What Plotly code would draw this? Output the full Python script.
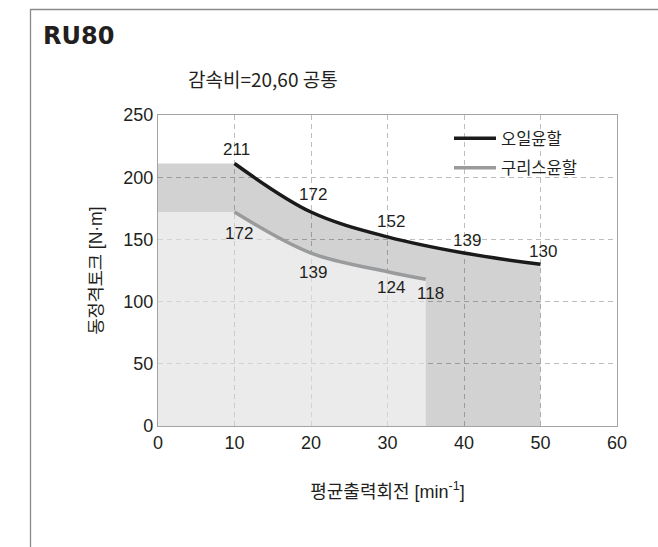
import plotly.graph_objects as go

# ---- data ----
oil_speed = [10, 20, 30, 40, 50]
oil_torque = [211, 172, 152, 139, 130]
grease_speed = [10, 20, 30, 35]
grease_torque = [172, 139, 124, 118]
x_ticks = [0, 10, 20, 30, 40, 50, 60]
y_ticks = [0, 50, 100, 150, 200, 250]

title_text = "RU80"
subtitle_text = "감속비=20,60 공통"
oil_name = "오일윤할"
grease_name = "구리스윤할"
x_title = "평균출력회전 [min<sup>-1</sup>]"
y_title = "동정격토크 [N·m]"

# label pixel offsets (style)
oil_label_dx = [2, 2, 3, 3, 2]
oil_label_dy = [14, 18, 15, 13, 13]
grease_label_dx = [4, 2, 3, 5]
grease_label_dy = [-21, -19, -16, -14]

LAT = "Liberation Sans, Noto Sans CJK KR, sans-serif"
KR = "Noto Sans CJK KR, sans-serif"
TXT = "#231f20"

W, H = 658, 547
L, R, T, B = 158, 41, 115, 121
pw, ph = W - L - R, H - T - B


def px_x(p):
    return (p - L) / pw


def px_y(p):
    return (H - B - p) / ph


fig = go.Figure()

dark_fill = "rgba(0,0,0,0.175)"
light_fill = "rgba(255,255,255,0.56)"

# dark region: under oil curve (flat part up to first point, then curve)
fig.add_trace(go.Scatter(x=[0, oil_speed[0]], y=[oil_torque[0]] * 2, mode="none",
                         fill="tozeroy", fillcolor=dark_fill, showlegend=False, hoverinfo="skip"))
fig.add_trace(go.Scatter(x=oil_speed, y=oil_torque, mode="none", line_shape="spline",
                         fill="tozeroy", fillcolor=dark_fill, showlegend=False, hoverinfo="skip"))
# light region: under grease curve
fig.add_trace(go.Scatter(x=[0, grease_speed[0]], y=[grease_torque[0]] * 2, mode="none",
                         fill="tozeroy", fillcolor=light_fill, showlegend=False, hoverinfo="skip"))
fig.add_trace(go.Scatter(x=grease_speed, y=grease_torque, mode="none", line_shape="spline",
                         fill="tozeroy", fillcolor=light_fill, showlegend=False, hoverinfo="skip"))

# lines
fig.add_trace(go.Scatter(x=grease_speed, y=grease_torque, mode="lines", name=grease_name,
                         line=dict(color="#9a9b9d", width=3.5, shape="spline"),
                         legendgroup="g", legendrank=2))
fig.add_trace(go.Scatter(x=oil_speed, y=oil_torque, mode="lines", name=oil_name,
                         line=dict(color="#1a1a1a", width=3.5, shape="spline"),
                         legendgroup="o", legendrank=1))

annotations = []
for x, y, dx, dy in zip(oil_speed, oil_torque, oil_label_dx, oil_label_dy):
    annotations.append(dict(x=x, y=y, xref="x", yref="y", text=str(y), showarrow=False,
                            xshift=dx, yshift=dy, font=dict(family=LAT, size=17, color=TXT)))
for x, y, dx, dy in zip(grease_speed, grease_torque, grease_label_dx, grease_label_dy):
    annotations.append(dict(x=x, y=y, xref="x", yref="y", text=str(y), showarrow=False,
                            xshift=dx, yshift=dy, font=dict(family=LAT, size=17, color=TXT)))

annotations.append(dict(x=px_x(186), y=px_y(78), xref="paper", yref="paper",
                        xanchor="left", yanchor="middle", text=subtitle_text, showarrow=False,
                        font=dict(family=KR, size=19, color=TXT)))

fig.update_layout(
    width=W, height=H,
    margin=dict(l=L, r=R, t=T, b=B),
    paper_bgcolor="white", plot_bgcolor="white",
    title=dict(text="<b>" + title_text + "</b>", x=43 / W, xanchor="left", xref="container",
               y=1 - 36 / H, yanchor="middle", yref="container",
               font=dict(family="DejaVu Sans, sans-serif", size=24, color=TXT)),
    showlegend=True,
    legend=dict(x=px_x(449), y=px_y(121), xanchor="left", yanchor="top",
                bgcolor="rgba(0,0,0,0)", tracegroupgap=5, itemwidth=42,
                font=dict(family=KR, size=16.5, color=TXT)),
    annotations=annotations,
    shapes=[dict(type="rect", xref="paper", yref="paper",
                 x0=px_x(30.5), x1=px_x(700), y0=px_y(600), y1=px_y(9.5),
                 line=dict(color="#8a8a8a", width=1.3), fillcolor="rgba(0,0,0,0)", layer="below")],
)

fig.update_xaxes(range=[0, 60], tickvals=x_ticks, showgrid=True, gridcolor="#bdbdbd",
                 griddash="5px,4px", gridwidth=1, zeroline=False,
                 showline=True, linecolor="#a3a3a3", linewidth=1.3, mirror=True,
                 tickfont=dict(family=LAT, size=18, color=TXT),
                 title=dict(text=x_title, font=dict(family=LAT, size=18, color=TXT), standoff=33))
fig.update_yaxes(range=[0, 250], tickvals=y_ticks, showgrid=True, gridcolor="#bdbdbd",
                 griddash="5px,4px", gridwidth=1, zeroline=False,
                 showline=True, linecolor="#a3a3a3", linewidth=1.3, mirror=True,
                 tickfont=dict(family=LAT, size=18, color=TXT),
                 title=dict(text=y_title, font=dict(family=LAT, size=17.5, color=TXT), standoff=16))

fig.write_html("out.html")
